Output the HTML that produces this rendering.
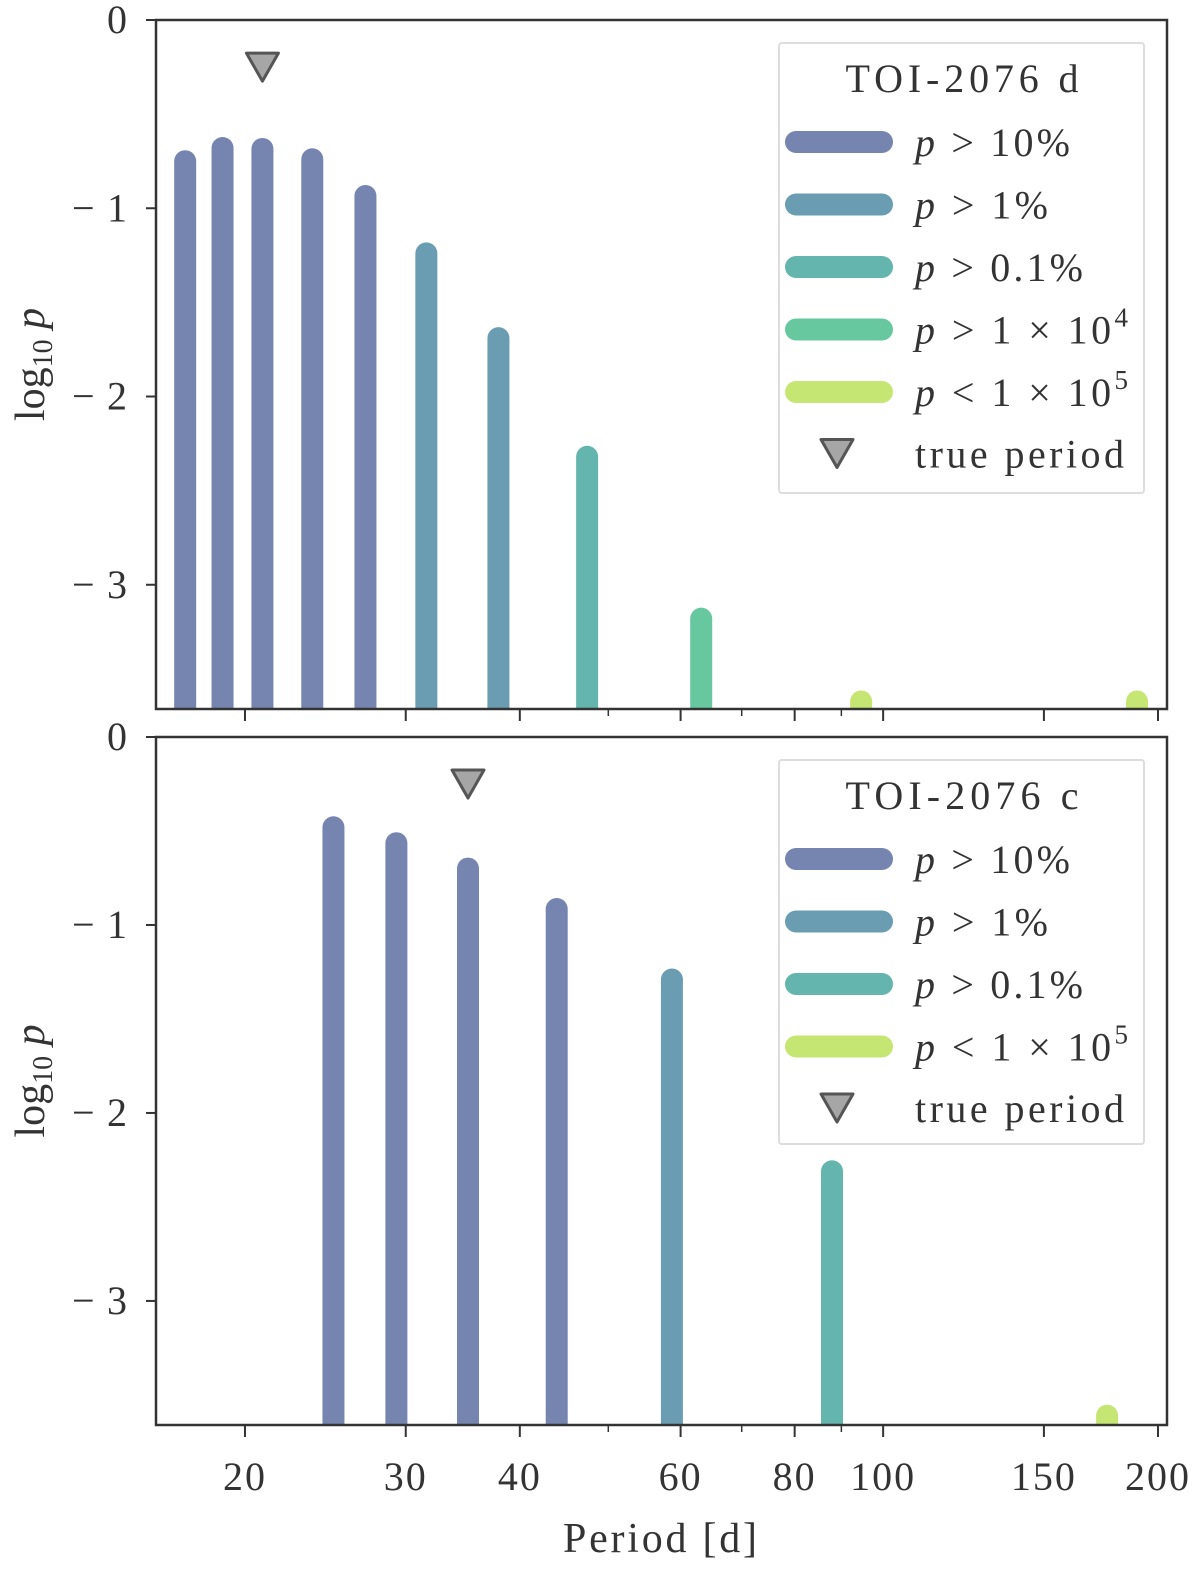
<!DOCTYPE html>
<html><head><meta charset="utf-8"><style>
body{margin:0;background:#fff}
svg{display:block}
text{font-family:"Liberation Serif","DejaVu Serif",serif;fill:#333}
</style></head><body>
<svg id="chart" width="1200" height="1571" viewBox="0 0 1200 1571" xmlns="http://www.w3.org/2000/svg"></svg>
<script>
const topPeriods=[17.2,18.9,20.9,23.7,27.1,31.6,37.9,47.4,63.2,94.6,189.7];
const topLogP=[-0.75,-0.68,-0.685,-0.74,-0.935,-1.24,-1.69,-2.32,-3.18,-3.62,-3.62];
const topClass=[0,0,0,0,0,1,1,2,3,4,4];
const topTrue=20.9;
const botPeriods=[25.0,29.3,35.1,43.9,58.7,87.9,175.9];
const botLogP=[-0.48,-0.565,-0.70,-0.915,-1.29,-2.31,-3.61];
const botClass=[0,0,0,0,1,2,4];
const botTrue=35.1;
const xTicks=[20,30,40,60,80,100,150,200];
const xMinor=[50,70,90];
const yTicks=[0,-1,-2,-3];
const classColors=["#7585b0","#6a9db1","#63b5ad","#67c8a0","#c6e673"];
const classLabels=["p > 10%","p > 1%","p > 0.1%","p > 1 × 10","p < 1 × 10"];
const classSup=["","","","4","5"];
const classLen=[155,133,168,213,213];

const NS="http://www.w3.org/2000/svg";
const svg=document.getElementById('chart');
const X0=156,X1=1167,PMIN=15.98,PMAX=204.6,YMIN=-3.66;
function xs(p){return X0+(Math.log10(p)-Math.log10(PMIN))/(Math.log10(PMAX)-Math.log10(PMIN))*(X1-X0);}
function mk(tag,attrs,parent){const e=document.createElementNS(NS,tag);for(const k in attrs)e.setAttribute(k,attrs[k]);(parent||svg).appendChild(e);return e;}

function panel(name,top,bot,periods,vals,cls,truep,title,legendClasses,lx,ly,lh){
  const g=mk('g',{});
  
  
  const ys=v=>top+(0-v)/(0-YMIN)*(bot-top);
  const cid='clip-'+name;
  const cp=mk('clipPath',{id:cid},g);mk('rect',{x:X0,y:0,width:X1-X0,height:bot},cp);
  const bars=mk('g',{'clip-path':'url(#'+cid+')'},g);
  periods.forEach((p,i)=>{
    const l=mk('line',{x1:xs(p),x2:xs(p),y1:ys(vals[i]),y2:bot+20,stroke:classColors[cls[i]],'stroke-width':22,'stroke-linecap':'round'},bars);
    
    
  });
  const tx=xs(truep),ty=ys(-0.245);
  const tri=mk('path',{d:`M${tx-16},${ty-13}L${tx+16},${ty-13}L${tx},${ty+15}Z`,fill:'#a6a6a6',stroke:'#555','stroke-width':3,'stroke-linejoin':'round'},g);
  
  
  const fr=mk('rect',{x:X0,y:top,width:X1-X0,height:bot-top,fill:'none',stroke:'#333','stroke-width':2.5},g);
  
  
  yTicks.forEach(v=>{
    mk('line',{x1:X0-10,x2:X0,y1:ys(v),y2:ys(v),stroke:'#333','stroke-width':2},g);
    const a={x:X0-29,y:ys(v)+13,'text-anchor':'end','font-size':40};
    if(v!==0){a.textLength=55;a.lengthAdjust='spacing';}
    const t=mk('text',a,g);
    t.textContent=v===0?'0':'−'+(-v);
    
    
  });
  xTicks.forEach(p=>mk('line',{x1:xs(p),x2:xs(p),y1:bot,y2:bot+12,stroke:'#333','stroke-width':2},g));
  xMinor.forEach(p=>mk('line',{x1:xs(p),x2:xs(p),y1:bot,y2:bot+7,stroke:'#333','stroke-width':1.5},g));
  const yl=mk('text',{x:0,y:0,'font-size':42,transform:`translate(44,${(top+bot)/2}) rotate(-90)`,'text-anchor':'middle'},g);
  yl.innerHTML='log<tspan font-size="28" dy="8">10</tspan><tspan dy="-8" font-style="italic"> p</tspan>';
  
  
  const lg=mk('g',{},g);
  
  
  mk('rect',{x:lx,y:ly,width:365,height:lh,fill:'#fff',stroke:'#ddd','stroke-width':2,rx:3},lg);
  const tt=mk('text',{x:lx+183,y:ly+49,'text-anchor':'middle','font-size':40,textLength:233,lengthAdjust:'spacing'},lg);tt.textContent=title;
  let ey=ly+99;
  legendClasses.forEach(c=>{
    const e=mk('g',{},lg);
    
    
    mk('line',{x1:lx+17,x2:lx+103,y1:ey,y2:ey,stroke:classColors[c],'stroke-width':22,'stroke-linecap':'round'},e);
    const t=mk('text',{x:lx+136,y:ey+14,'font-size':40,textLength:classLen[c],lengthAdjust:'spacing'},e);
    const lab=classLabels[c];
    t.innerHTML='<tspan font-style="italic">p</tspan>'+lab.slice(1)+(classSup[c]?'<tspan font-size="27" dy="-17">'+classSup[c]+'</tspan>':'');
    ey+=62.5;
  });
  const e=mk('g',{},lg);
  
  
  const cx=lx+58,cy=ey-2;
  mk('path',{d:`M${cx-16},${cy-13}L${cx+16},${cy-13}L${cx},${cy+15}Z`,fill:'#a6a6a6',stroke:'#555','stroke-width':3,'stroke-linejoin':'round'},e);
  const t=mk('text',{x:lx+136,y:ey+13,'font-size':40,textLength:209,lengthAdjust:'spacing'},e);t.textContent='true period';
}
panel('top',20,709,topPeriods,topLogP,topClass,topTrue,'TOI-2076 d',[0,1,2,3,4],779,43,450);
panel('bottom',737,1425,botPeriods,botLogP,botClass,botTrue,'TOI-2076 c',[0,1,2,4],779,760,384);
xTicks.forEach(p=>{
  const t=mk('text',{x:xs(p),y:1490,'text-anchor':'middle','font-size':40,'letter-spacing':2});
  t.textContent=p;
  
  
});
const xl=mk('text',{x:660,y:1552,'text-anchor':'middle','font-size':42,textLength:194,lengthAdjust:'spacing'});
xl.textContent='Period [d]';


</script>
</body></html>
